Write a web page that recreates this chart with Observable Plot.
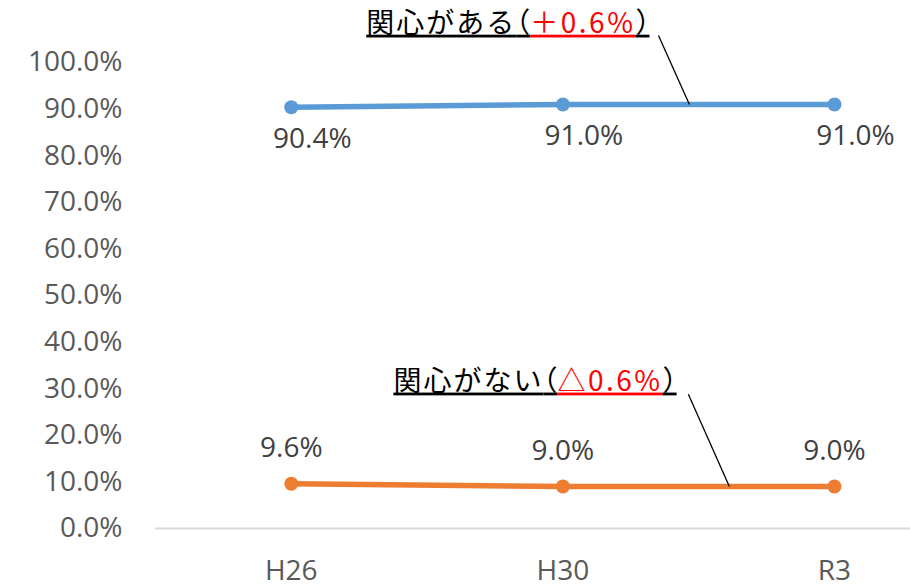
<!DOCTYPE html>
<html><head><meta charset="utf-8">
<script src="https://cdn.jsdelivr.net/npm/d3@7"></script>
<script src="https://cdn.jsdelivr.net/npm/@observablehq/plot@0.6"></script>
<style>body{margin:0;background:#fff;} svg{display:block}</style>
</head><body><div id="chart"></div>
<script>
// Data
const periods = ["H26", "H30", "R3"];
const interested = [90.4, 91.0, 91.0];      // 関心がある
const notInterested = [9.6, 9.0, 9.0];      // 関心がない
const yTicks = [0, 10, 20, 30, 40, 50, 60, 70, 80, 90, 100];

// Annotation callouts (positions in data units: x = period index, y = percent)
const annoParts1 = ["関心がある", "（", "＋0.6%", "）"];
const annoParts2 = ["関心がない", "（", "△0.6%", "）"];
const annoX = [0.276, 0.376];
const annoY = [106.4, 29.6];
const leaderX1 = [1.352, 1.462];
const leaderY1 = [105.8, 28.8];
const leaderX2 = [1.466, 1.613];
const leaderY2 = [91.0, 9.0];

const rowsA = periods.map((p, i) => ({i, v: interested[i]}));
const rowsB = periods.map((p, i) => ({i, v: notInterested[i]}));
const annoParts = [annoParts1, annoParts2];
const annos = [0, 1].map(k => ({x: annoX[k], y: annoY[k], label: annoParts[k].join("")}));
const leaders = [0, 1].map(k => ({x1: leaderX1[k], y1: leaderY1[k], x2: leaderX2[k], y2: leaderY2[k]}));

const blue = "#5B9BD5", orange = "#ED7D31";
const numFont = "'Open Sans', sans-serif";

const chart = Plot.plot({
  width: 910, height: 587,
  marginLeft: 155, marginRight: 0, marginTop: 62, marginBottom: 59,
  style: {fontFamily: numFont, fontSize: "28px", background: "#fff", overflow: "visible"},
  x: {type: "linear", domain: [-0.5, 2.28]},
  y: {domain: [0, 100]},
  marks: [
    Plot.axisY({ticks: yTicks, tickFormat: d => d.toFixed(1) + "%", tickSize: 0, tickPadding: 33, label: null, color: "#595959", fontSize: 28, fontFamily: numFont}),
    Plot.axisX({ticks: [0, 1, 2], tickFormat: i => periods[i], tickSize: 0, tickPadding: 32, label: null, color: "#595959", fontSize: 28, fontFamily: numFont}),
    Plot.ruleY([0], {stroke: "#d9d9d9", strokeWidth: 2}),
    Plot.line(rowsA, {x: "i", y: "v", stroke: blue, strokeWidth: 5.5}),
    Plot.dot(rowsA, {x: "i", y: "v", fill: blue, r: 7}),
    Plot.line(rowsB, {x: "i", y: "v", stroke: orange, strokeWidth: 5.5}),
    Plot.dot(rowsB, {x: "i", y: "v", fill: orange, r: 7}),
    Plot.text(rowsA, {x: "i", y: "v", text: d => d.v.toFixed(1) + "%", dx: 21, dy: 32, fill: "#404040", fontSize: 28, fontFamily: numFont}),
    Plot.text(rowsB, {x: "i", y: "v", text: d => d.v.toFixed(1) + "%", dy: -36, fill: "#404040", fontSize: 28, fontFamily: numFont}),
    Plot.link(leaders, {x1: "x1", y1: "y1", x2: "x2", y2: "y2", stroke: "black", strokeWidth: 1.3}),
    Plot.text(annos, {x: "x", y: "y", text: "label", textAnchor: "start", lineAnchor: "bottom", fill: "black", fontSize: 28, fontFamily: "'Noto Sans CJK JP', sans-serif"})
  ]
});

// Split annotation texts into coloured, underlined parts
chart.querySelectorAll("text").forEach(t => {
  const p = annoParts.find(pp => t.textContent === pp.join(""));
  if (!p) return;
  t.textContent = "";
  p.forEach((s, j) => {
    const ts = document.createElementNS("http://www.w3.org/2000/svg", "tspan");
    ts.textContent = s;
    ts.setAttribute("fill", j === 2 ? "#FF0000" : "black");
    ts.setAttribute("text-decoration", "underline");
    ts.style.textDecoration = "underline";
    if (j === 1 || j === 3) ts.style.fontFeatureSettings = '"halt"';
    if (j === 0) ts.style.letterSpacing = "2px";
    if (j === 2) ts.style.letterSpacing = "2.5px";
    t.appendChild(ts);
  });
});

document.getElementById("chart").appendChild(chart);
</script>
</body></html>
